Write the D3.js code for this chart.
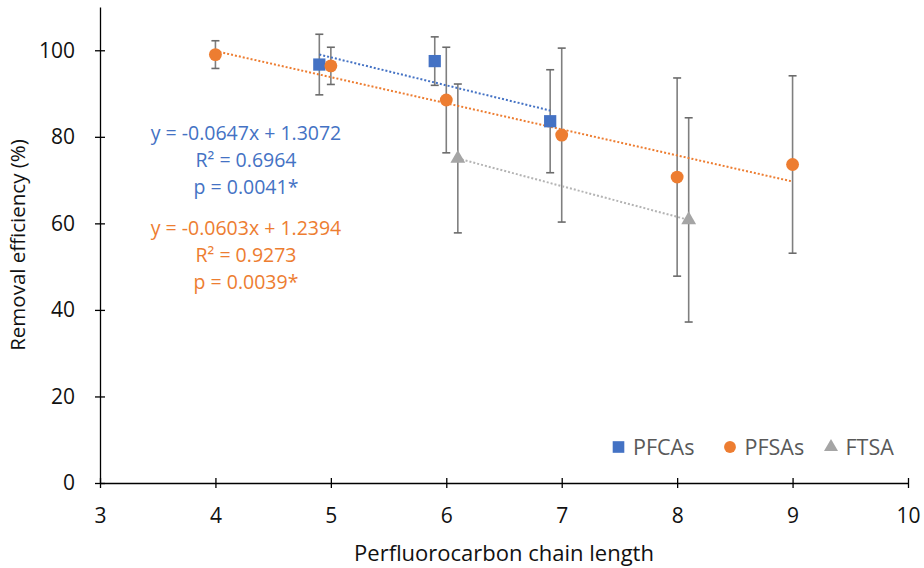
<!DOCTYPE html>
<html>
<head>
<meta charset="utf-8">
<script src="https://cdn.jsdelivr.net/npm/d3@7"></script>
<style>
  html, body { margin: 0; padding: 0; background: #fff; }
  svg { display: block; }
  svg text { font-family: "Open Sans", sans-serif; }
</style>
</head>
<body>
<svg id="chart" width="924" height="568"></svg>
<script>
// Removal efficiency by perfluorocarbon chain length, three compound classes
const pfcaX   = [4.9, 5.9, 6.9];
const pfcaY   = [96.7, 97.5, 83.6];
const pfcaErr = [7.0, 5.6, 11.9];

const pfsaX   = [4, 5, 6, 7, 8, 9];
const pfsaY   = [99.0, 96.4, 88.5, 80.4, 70.7, 73.6];
const pfsaErr = [3.2, 4.3, 12.2, 20.1, 22.9, 20.5];

const ftsaX   = [6.1, 8.1];
const ftsaY   = [75.0, 60.8];
const ftsaErr = [17.2, 23.6];

// Regression coefficients (fraction scale): slope, intercept
const pfcaFit = [-0.0647, 1.3072];
const pfsaFit = [-0.0603, 1.2394];

const pfcaLabels = ["y = -0.0647x + 1.3072", "R² = 0.6964", "p = 0.0041*"];
const pfsaLabels = ["y = -0.0603x + 1.2394", "R² = 0.9273", "p = 0.0039*"];

const xTicks = [3, 4, 5, 6, 7, 8, 9, 10];
const yTicks = [0, 20, 40, 60, 80, 100];
const seriesNames = ["PFCAs", "PFSAs", "FTSA"];

const colors = { PFCAs: "#4472C4", PFSAs: "#ED7D31", FTSA: "#A5A5A5" };

const svg = d3.select("#chart");
const x = d3.scaleLinear().domain([3, 10]).range([100, 908]);
const y = d3.scaleLinear().domain([0, 110]).range([483, 7]);

// Axes with ticks crossing the axis line
const xAxis = svg.append("g")
  .attr("transform", `translate(0,${y(0)})`)
  .call(d3.axisBottom(x).tickValues(xTicks).tickSizeOuter(0).tickFormat(d3.format("d")));
xAxis.selectAll(".tick line").attr("y1", -5).attr("y2", 5);

const yAxis = svg.append("g")
  .attr("transform", `translate(${x(3)},0)`)
  .call(d3.axisLeft(y).tickValues(yTicks).tickSizeOuter(0).tickFormat(d3.format("d")));
yAxis.selectAll(".tick line").attr("x1", -5).attr("x2", 5);

[xAxis, yAxis].forEach(g => {
  g.attr("font-family", null);
  g.select(".domain").attr("stroke", "#000").attr("stroke-width", 1.3);
  g.selectAll(".tick line").attr("stroke", "#000").attr("stroke-width", 1.3);
  g.selectAll(".tick text").attr("fill", "#111").style("font-size", "21px");
});
xAxis.selectAll(".tick text").attr("y", 25);
yAxis.selectAll(".tick text").attr("x", -25);

svg.append("text")
  .attr("x", (x(3) + x(10)) / 2).attr("y", 561)
  .attr("text-anchor", "middle").style("font-size", "22px").attr("fill", "#111")
  .text("Perfluorocarbon chain length");

svg.append("text")
  .attr("transform", `translate(25,${y(55)}) rotate(-90)`)
  .attr("text-anchor", "middle").style("font-size", "20.5px").attr("fill", "#111")
  .text("Removal efficiency (%)");

// Least-squares fit for series without printed coefficients
function lsFit(xs, ys) {
  const mx = d3.mean(xs), my = d3.mean(ys);
  const sxy = d3.sum(xs, (v, i) => (v - mx) * (ys[i] - my));
  const sxx = d3.sum(xs, v => (v - mx) * (v - mx));
  const b = sxy / sxx;
  return [b / 100, (my - b * mx) / 100];
}
const ftsaFit = lsFit(ftsaX, ftsaY);

const series = [
  { name: "PFCAs", xs: pfcaX, ys: pfcaY, err: pfcaErr, fit: pfcaFit, shape: d3.symbolSquare, size: 150 },
  { name: "PFSAs", xs: pfsaX, ys: pfsaY, err: pfsaErr, fit: pfsaFit, shape: d3.symbolCircle, size: 130 },
  { name: "FTSA",  xs: ftsaX, ys: ftsaY, err: ftsaErr, fit: ftsaFit, shape: d3.symbolTriangle, size: 95 }
];

// Error bars
const errG = svg.append("g");
series.forEach(s => {
  s.xs.forEach((xv, i) => {
    const lo = s.ys[i] - s.err[i], hi = s.ys[i] + s.err[i];
    errG.append("line").attr("x1", x(xv)).attr("x2", x(xv)).attr("y1", y(lo)).attr("y2", y(hi))
      .attr("stroke", "#7f7f7f").attr("stroke-width", 1.6);
    [lo, hi].forEach(v => errG.append("line")
      .attr("x1", x(xv) - 4).attr("x2", x(xv) + 4).attr("y1", y(v)).attr("y2", y(v))
      .attr("stroke", "#6b6b6b").attr("stroke-width", 1.6));
  });
});

// Dotted trendlines across each series' x range
const trendG = svg.append("g");
series.forEach(s => {
  const x0 = d3.min(s.xs), x1 = d3.max(s.xs);
  const f = v => 100 * (s.fit[0] * v + s.fit[1]);
  trendG.append("line")
    .attr("x1", x(x0)).attr("y1", y(f(x0)))
    .attr("x2", x(x1)).attr("y2", y(f(x1)))
    .attr("stroke", s.name === "FTSA" ? "#b4b4b4" : colors[s.name])
    .attr("stroke-width", 2).attr("stroke-dasharray", "2,2");
});

// Markers
const markG = svg.append("g");
series.forEach(s => {
  s.xs.forEach((xv, i) => {
    markG.append("path")
      .attr("d", d3.symbol().type(s.shape).size(s.size)())
      .attr("transform", `translate(${x(xv)},${y(s.ys[i])})`)
      .attr("fill", colors[s.name]);
  });
});

// Regression annotations
function annotate(lines, color, y0) {
  lines.forEach((t, i) => {
    svg.append("text")
      .attr("x", 246).attr("y", y0 + i * 27)
      .attr("text-anchor", "middle").style("font-size", "19.5px").attr("fill", color)
      .text(t);
  });
}
annotate(pfcaLabels, colors.PFCAs, 140);
annotate(pfsaLabels, colors.PFSAs, 235);

// Legend
const legendX = [618.5, 730, 831];
const legend = svg.append("g");
series.forEach((s, i) => {
  legend.append("path")
    .attr("d", d3.symbol().type(s.shape).size(s.name === "PFCAs" ? 135 : s.name === "PFSAs" ? 110 : 85)())
    .attr("transform", `translate(${legendX[i]},${447})`)
    .attr("fill", colors[s.name]);
  legend.append("text")
    .attr("x", legendX[i] + 14.5).attr("y", 455)
    .style("font-size", "21.5px").attr("fill", "#595959")
    .text(seriesNames[i]);
});
</script>
</body>
</html>
